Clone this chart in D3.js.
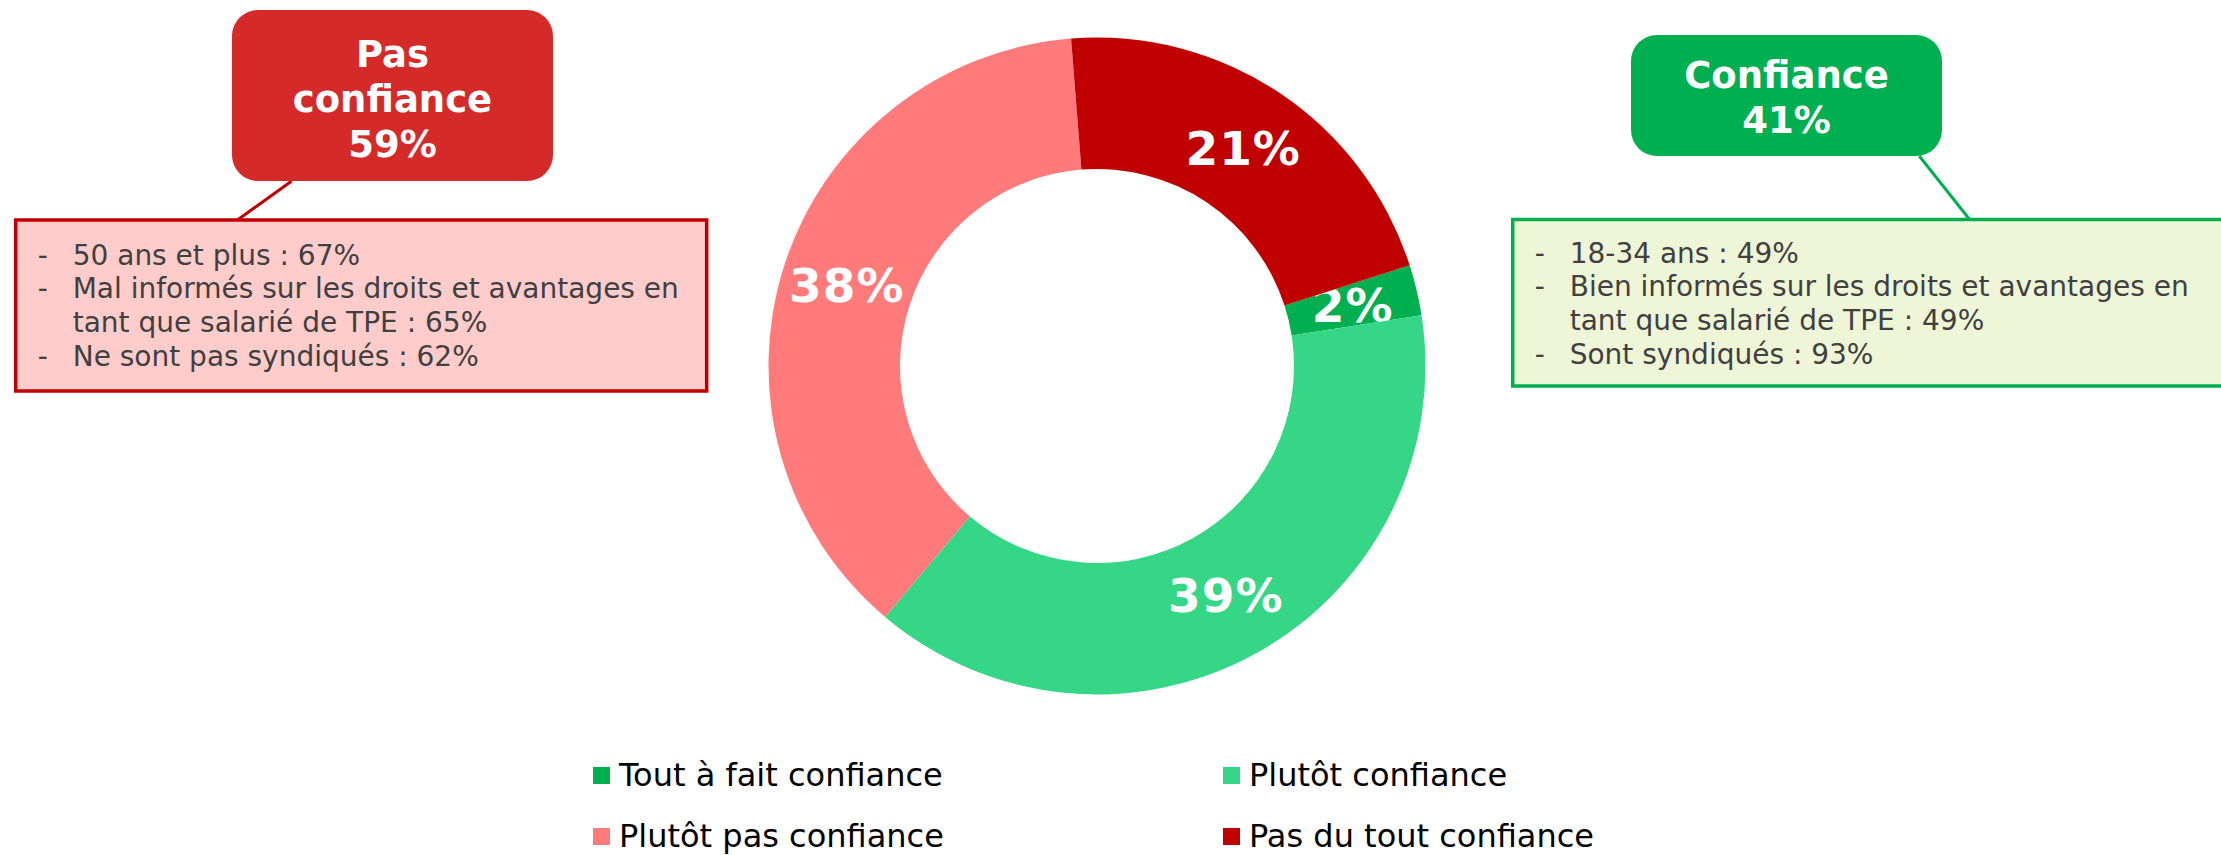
<!DOCTYPE html>
<html>
<head>
<meta charset="utf-8">
<script src="https://cdn.jsdelivr.net/npm/d3@7"></script>
<style>
  body { margin: 0; background: #fff; }
  svg { display: block; font-family: Verdana, "DejaVu Sans", sans-serif; }
</style>
</head>
<body>
<div id="chart"></div>
<script>
var width = 2221;
var height = 855;

// donut data (order as in the legend)
var categories = ["Tout à fait confiance", "Plutôt confiance", "Plutôt pas confiance", "Pas du tout confiance"];
var values = [2.49, 38.63, 37.58, 21.30];
var colors = ["#00B050", "#35D787", "#FF7B7B", "#C00000"];

// callouts
var pasTitle = ["Pas", "confiance", "59%"];
var pasLines = [
  ["-", "50 ans et plus : 67%"],
  ["-", "Mal informés sur les droits et avantages en"],
  ["", "tant que salarié de TPE : 65%"],
  ["-", "Ne sont pas syndiqués : 62%"]
];
var confTitle = ["Confiance", "41%"];
var confLines = [
  ["-", "18-34 ans : 49%"],
  ["-", "Bien informés sur les droits et avantages en"],
  ["", "tant que salarié de TPE : 49%"],
  ["-", "Sont syndiqués : 93%"]
];

var svg = d3
  .select("#chart")
  .append("svg")
  .attr("width", width)
  .attr("height", height);

var cx = 1097, cy = 366;
var outerR = 328.5, innerR = 197;

var pie = d3.pie()
  .sort(null)
  .value(function(d) { return d; })
  .startAngle(72.15 * Math.PI / 180)
  .endAngle(72.15 * Math.PI / 180 + 2 * Math.PI);

var arc = d3.arc().innerRadius(innerR).outerRadius(outerR);

var donut = svg.append("g").attr("transform", "translate(" + cx + "," + cy + ")");

var slices = donut.selectAll("g")
  .data(pie(values))
  .enter()
  .append("g");

slices.append("path")
  .attr("d", arc)
  .attr("fill", function(d, i) { return colors[i]; });

slices.append("text")
  .attr("transform", function(d) { return "translate(" + arc.centroid(d) + ")"; })
  .attr("text-anchor", "middle")
  .attr("dy", "0.36em")
  .attr("fill", "#fff")
  .attr("font-weight", "bold")
  .attr("font-size", 47)
  .attr("letter-spacing", 1)
  .text(function(d) { return Math.round(d.value) + "%"; });

// callout helper
function callout(opt) {
  var g = svg.append("g");

  g.append("line")
    .attr("x1", opt.link[0]).attr("y1", opt.link[1])
    .attr("x2", opt.link[2]).attr("y2", opt.link[3])
    .attr("stroke", opt.stroke)
    .attr("stroke-width", 3);

  g.append("rect")
    .attr("x", opt.box[0]).attr("y", opt.box[1])
    .attr("width", opt.box[2]).attr("height", opt.box[3])
    .attr("fill", opt.boxFill)
    .attr("stroke", opt.stroke)
    .attr("stroke-width", 3.5);

  g.append("rect")
    .attr("x", opt.head[0]).attr("y", opt.head[1])
    .attr("width", opt.head[2]).attr("height", opt.head[3])
    .attr("rx", 26).attr("ry", 26)
    .attr("fill", opt.headFill);

  g.selectAll(".title")
    .data(opt.title)
    .enter()
    .append("text")
    .attr("class", "title")
    .attr("x", opt.head[0] + opt.head[2] / 2)
    .attr("y", function(d, i) { return opt.titleY + i * 45; })
    .attr("text-anchor", "middle")
    .attr("fill", "#fff")
    .attr("font-weight", "bold")
    .attr("font-size", 37)
    .text(function(d) { return d; });

  var rows = g.selectAll(".row")
    .data(opt.lines)
    .enter()
    .append("g")
    .attr("class", "row")
    .attr("transform", function(d, i) { return "translate(0," + (opt.lineY + i * 33.7) + ")"; });

  rows.append("text")
    .attr("x", opt.box[0] + 22)
    .attr("fill", "#404040")
    .attr("font-size", 28)
    .text(function(d) { return d[0]; });

  rows.append("text")
    .attr("x", opt.box[0] + 57)
    .attr("fill", "#404040")
    .attr("font-size", 28)
    .text(function(d) { return d[1]; });
}

callout({
  head: [232, 10, 321, 171],
  headFill: "#D42A2A",
  title: pasTitle,
  titleY: 66.7,
  box: [15.7, 220, 691, 171],
  boxFill: "#FFCCCC",
  stroke: "#C00000",
  link: [291.7, 181, 236, 221],
  lines: pasLines,
  lineY: 264.5
});

callout({
  head: [1631, 35, 311, 121],
  headFill: "#00AF50",
  title: confTitle,
  titleY: 88.3,
  box: [1512.7, 219.5, 760, 166.5],
  boxFill: "#EFF6D7",
  stroke: "#00B050",
  link: [1919.3, 156, 1970, 220],
  lines: confLines,
  lineY: 262.7
});

// legend
var legend = svg.append("g")
  .selectAll("g")
  .data(categories)
  .enter()
  .append("g")
  .attr("transform", function(d, i) {
    return "translate(" + (i % 2 === 0 ? 593 : 1223) + "," + (767 + Math.floor(i / 2) * 61) + ")";
  });

legend.append("rect")
  .attr("width", 17)
  .attr("height", 17)
  .attr("fill", function(d, i) { return colors[i]; });

legend.append("text")
  .attr("x", 26)
  .attr("y", 19)
  .attr("font-size", 32)
  .attr("fill", "#000")
  .text(function(d) { return d; });
</script>
</body>
</html>
